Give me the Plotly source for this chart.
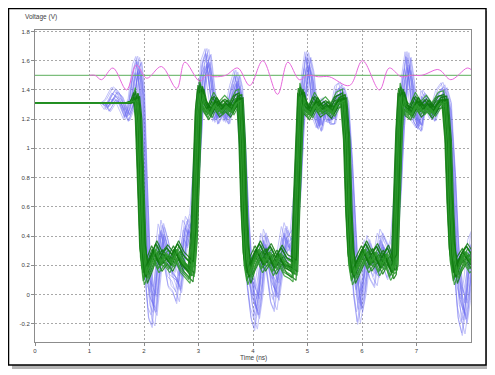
import plotly.graph_objects as go

# ---------------- data ----------------
green_t = [0.00, 1.70, 1.80, 1.86, 1.90, 1.94, 1.98, 2.03, 2.10, 2.20, 2.30, 2.40, 2.50, 2.60, 2.70, 2.80,
           2.87, 2.92, 2.96, 3.00, 3.04, 3.10, 3.20, 3.30, 3.40, 3.50, 3.60, 3.70, 3.76, 3.80, 3.84, 3.88,
           3.93, 4.00, 4.10, 4.20, 4.30, 4.40, 4.50, 4.60, 4.70, 4.76, 4.80, 4.84, 4.88, 4.95, 5.05, 5.15,
           5.25, 5.35, 5.45, 5.55, 5.66, 5.72, 5.76, 5.80, 5.85, 5.95, 6.05, 6.15, 6.25, 6.35, 6.45, 6.55,
           6.60, 6.64, 6.68, 6.72, 6.80, 6.90, 7.00, 7.10, 7.20, 7.30, 7.42, 7.52, 7.58, 7.62, 7.66, 7.72,
           7.80, 7.90, 8.00, 8.10]
green_v = [1.31, 1.31, 1.32, 1.35, 1.20, 0.75, 0.30, 0.14, 0.20, 0.30, 0.22, 0.27, 0.22, 0.30, 0.22, 0.18,
           0.15, 0.40, 0.80, 1.25, 1.40, 1.30, 1.24, 1.32, 1.26, 1.30, 1.26, 1.33, 1.34, 1.05, 0.55, 0.25,
           0.14, 0.22, 0.30, 0.22, 0.28, 0.20, 0.27, 0.20, 0.18, 0.16, 0.60, 1.05, 1.38, 1.28, 1.24, 1.32,
           1.26, 1.29, 1.25, 1.32, 1.34, 1.05, 0.55, 0.25, 0.14, 0.22, 0.30, 0.22, 0.28, 0.20, 0.27, 0.17,
           0.20, 0.65, 1.10, 1.38, 1.27, 1.24, 1.32, 1.26, 1.30, 1.25, 1.32, 1.33, 1.05, 0.60, 0.28, 0.14,
           0.22, 0.28, 0.22, 0.25]

blue_t = [0.00, 1.25, 1.33, 1.45, 1.55, 1.68, 1.76, 1.84, 1.90, 1.95, 2.00, 2.06, 2.12, 2.18, 2.25, 2.32,
          2.40, 2.48, 2.56, 2.63, 2.70, 2.77, 2.83, 2.90, 2.97, 3.03, 3.10, 3.17, 3.24, 3.32, 3.42, 3.52,
          3.62, 3.70, 3.75, 3.81, 3.87, 3.93, 4.00, 4.06, 4.13, 4.20, 4.28, 4.36, 4.42, 4.50, 4.58, 4.66,
          4.74, 4.82, 4.88, 4.94, 5.00, 5.06, 5.13, 5.22, 5.30, 5.38, 5.46, 5.55, 5.62, 5.70, 5.77, 5.83,
          5.88, 5.95, 6.02, 6.10, 6.18, 6.26, 6.34, 6.42, 6.50, 6.58, 6.66, 6.72, 6.78, 6.84, 6.90, 6.97,
          7.05, 7.13, 7.22, 7.30, 7.40, 7.50, 7.58, 7.66, 7.72, 7.80, 7.87, 7.93, 8.00, 8.10]
blue_v = [1.31, 1.31, 1.29, 1.37, 1.34, 1.22, 1.30, 1.52, 1.57, 1.40, 0.80, 0.20, -0.05, -0.10, 0.15, 0.42,
          0.30, 0.15, 0.12, 0.05, 0.25, 0.45, 0.40, 0.50, 0.90, 1.30, 1.55, 1.62, 1.40, 1.20, 1.28, 1.20,
          1.38, 1.48, 1.40, 1.00, 0.50, 0.15, -0.05, -0.12, 0.05, 0.35, 0.25, 0.05, 0.00, 0.20, 0.40, 0.30,
          0.35, 0.70, 1.15, 1.45, 1.60, 1.50, 1.25, 1.15, 1.30, 1.20, 1.20, 1.38, 1.40, 1.30, 0.90, 0.45,
          0.10, -0.08, 0.05, 0.30, 0.20, 0.15, 0.35, 0.28, 0.20, 0.30, 0.70, 1.15, 1.45, 1.60, 1.45, 1.20,
          1.15, 1.35, 1.30, 1.22, 1.35, 1.40, 1.30, 0.80, 0.30, -0.05, -0.15, 0.00, 0.30, 0.40]

# spread of the simulated bundles (time shift ns, gain about mid level, level offset V)
green_shift = [-0.06, -0.045, -0.03, -0.02, -0.01, 0.00, 0.01, 0.02, 0.03, 0.045, 0.06, -0.035, 0.015, 0.05, -0.015, 0.025, -0.05, 0.005, 0.035, -0.025]
green_gain = [0.97, 1.03, 0.99, 1.06, 0.95, 1.00, 1.02, 0.98, 1.04, 0.97, 1.01, 1.03, 0.96, 1.00, 1.05, 0.98, 1.02, 0.99, 0.96, 1.04]
green_offset = [0.02, -0.03, 0.00, 0.03, -0.02, 0.01, -0.01, 0.04, -0.04, 0.02, 0.00, -0.02, 0.03, -0.03, 0.01, 0.00, 0.02, -0.01, 0.05, -0.05]

blue_shift = [-0.06, -0.04, -0.02, 0.00, 0.02, 0.04, 0.06, -0.05, -0.01, 0.03, 0.05, -0.03, 0.01, 0.035, -0.015, 0.055]
blue_gain = [0.90, 1.08, 0.95, 1.00, 1.10, 0.92, 1.04, 1.06, 0.88, 0.97, 1.02, 1.09, 0.93, 0.99, 1.05, 0.91]
blue_offset = [0.03, -0.04, 0.00, 0.02, -0.03, 0.04, -0.01, 0.01, 0.05, -0.02, 0.00, -0.05, 0.03, -0.03, 0.02, 0.01]

pink_t = [1.00, 1.10, 1.22, 1.43, 1.68, 1.86, 2.05, 2.32, 2.60, 2.75, 3.02, 3.15, 3.30, 3.50, 3.72, 3.94,
          4.18, 4.45, 4.64, 4.85, 5.00, 5.20, 5.40, 5.77, 6.01, 6.32, 6.50, 6.72, 6.90, 7.10, 7.38, 7.45,
          7.63, 7.93, 8.00]
pink_v = [1.50, 1.50, 1.47, 1.55, 1.40, 1.57, 1.48, 1.56, 1.41, 1.59, 1.46, 1.50, 1.49, 1.50, 1.55, 1.43,
          1.60, 1.37, 1.59, 1.47, 1.50, 1.49, 1.49, 1.43, 1.60, 1.40, 1.55, 1.49, 1.50, 1.50, 1.54, 1.53,
          1.47, 1.55, 1.54]

ref_t = [0.0, 8.0]
ref_v = [1.5, 1.5]

x_ticks = [0, 1, 2, 3, 4, 5, 6, 7]
y_ticks = [-0.2, 0, 0.2, 0.4, 0.6, 0.8, 1, 1.2, 1.4, 1.6, 1.8]
y_tick_text = ["-0.2", "0", "0.2", "0.4", "0.6", "0.8", "1", "1.2", "1.4", "1.6", "1.8"]

MID = 0.75

def variant(ts, vs, shift, gain, off, t_start):
    xs, ys = [], []
    for t, v in zip(ts, vs):
        xs.append(t + shift)
        ys.append(v if t < t_start else MID + (v - MID) * gain + off)
    return xs, ys

fig = go.Figure()

# blue bundle
for i in range(len(blue_shift)):
    xs, ys = variant(blue_t, blue_v, blue_shift[i], blue_gain[i], blue_offset[i], 1.3)
    fig.add_trace(go.Scatter(x=xs, y=ys, mode="lines", line=dict(color="#6a6af2", width=1),
                             opacity=0.4, hoverinfo="skip", showlegend=False))

# green bundle
for i in range(len(green_shift)):
    xs, ys = variant(green_t, green_v, green_shift[i], green_gain[i], green_offset[i], 1.84)
    col = "#0f7a0f" if i % 2 == 0 else "#2f9a2f"
    fig.add_trace(go.Scatter(x=xs, y=ys, mode="lines", line=dict(color=col, width=1.2),
                             opacity=0.85, hoverinfo="skip", showlegend=False))

fig.add_trace(go.Scatter(x=ref_t, y=ref_v, mode="lines", line=dict(color="#5cae5c", width=1),
                         hoverinfo="skip", showlegend=False))
fig.add_trace(go.Scatter(x=pink_t, y=pink_v, mode="lines", line=dict(color="#e868dc", width=1, shape="spline"),
                         hoverinfo="skip", showlegend=False))

# page has an 8px body margin: figure coordinates = page coordinates - 8
OFF = 8
W, H = 495 - OFF, 375 - OFF
L, T = 35 - OFF, 30 - OFF
R = W - (471 - OFF)
B = H - (342 - OFF)
pw, ph = W - L - R, H - T - B

def px(xp):
    return (xp - OFF - L) / pw

def py(yp):
    return (H - B - (yp - OFF)) / ph

shapes = [
    dict(type="rect", xref="paper", yref="paper", x0=px(12), x1=px(490), y0=py(11), y1=py(369),
         fillcolor="#b4b4b4", line=dict(width=0), layer="below"),
    dict(type="rect", xref="paper", yref="paper", x0=px(8.5), x1=px(486), y0=py(8.5), y1=py(365),
         fillcolor="white", line=dict(color="black", width=1.5), layer="below"),
]

fig.update_layout(
    width=W, height=H,
    margin=dict(l=L, r=R, t=T, b=B),
    paper_bgcolor="white", plot_bgcolor="white",
    font=dict(family="Liberation Sans, Arial, sans-serif", size=6, color="#404040"),
    shapes=shapes,
    showlegend=False,
    annotations=[
        dict(text="Voltage (V)", xref="paper", yref="paper", x=px(23), y=py(17), xanchor="left",
             yanchor="middle", showarrow=False, font=dict(size=6.5, color="#404040")),
        dict(text="Time (ns)", xref="paper", yref="paper", x=px(253), y=py(357.5), xanchor="center",
             yanchor="middle", showarrow=False, font=dict(size=6.5, color="#404040")),
    ],
)
fig.update_xaxes(range=[0, 8], tickvals=x_ticks, ticktext=[str(v) for v in x_ticks],
                 showgrid=True, gridcolor="#a8a8a8", griddash="2px,2px", gridwidth=1,
                 showline=True, linecolor="#8c8c8c", linewidth=1, mirror=True,
                 ticks="outside", ticklen=3, tickcolor="#8c8c8c", zeroline=False,
                 tickfont=dict(size=6))
fig.update_yaxes(range=[-0.325, 1.81], tickvals=y_ticks, ticktext=y_tick_text,
                 showgrid=True, gridcolor="#a8a8a8", griddash="2px,2px", gridwidth=1,
                 showline=True, linecolor="#8c8c8c", linewidth=1, mirror=True,
                 ticks="outside", ticklen=3, tickcolor="#8c8c8c", zeroline=False,
                 tickfont=dict(size=6))

fig.write_html("out.html")
